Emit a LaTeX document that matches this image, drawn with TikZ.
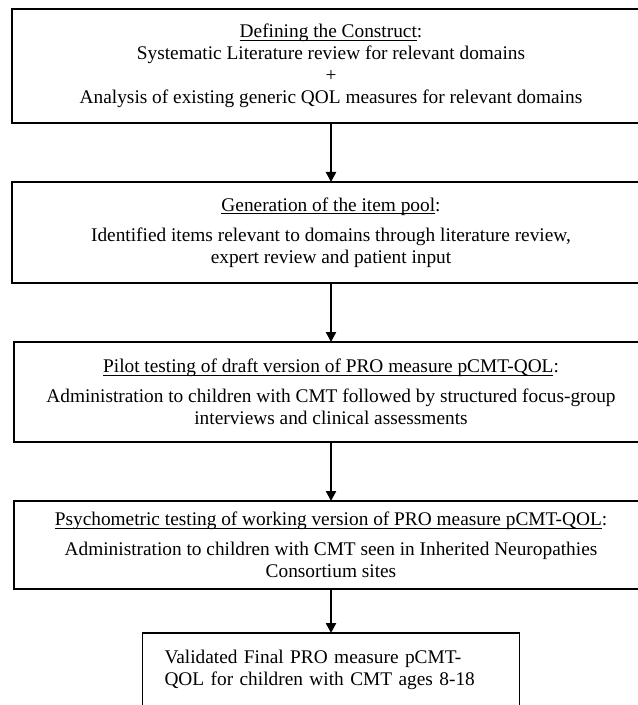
\documentclass[tikz,border=0pt]{standalone}
\usepackage{fontspec}
\setmainfont{Liberation Serif}
\usepackage{tikz}
\usetikzlibrary{positioning, arrows.meta}

\newlength{\ulwd}
\newcommand{\uln}[1]{\settowidth{\ulwd}{#1}\rlap{\rule[-2.2pt]{\ulwd}{0.75pt}}#1}

\tikzset{
  stage/.style={draw, line width=1.3pt, outer sep=0pt, inner sep=0pt,
    align=center, minimum width=478.5pt,
    font=\fontsize{14.5}{16.5}\selectfont},
}

\begin{document}
\begin{tikzpicture}[node distance=44.25pt,->,>={Triangle[width=7.5pt,length=7.5pt]},
  every edge/.append style={line width=1.8pt}]
  \useasboundingbox (0,0) rectangle (477.75pt,-528.75pt);
  \node[stage, minimum height=85.5pt] (1) at (248.25pt,-49.5pt) {\uln{Defining the Construct}:\\
    Systematic Literature review for relevant domains\\ +\\
    Analysis of existing generic QOL measures for relevant domains};
  \node[stage, minimum height=75.75pt] (2) [below=of 1] {\uln{Generation of the item pool}:\\[6pt]
    Identified items relevant to domains through literature review,\\
    expert review and patient input};
  \node[stage, minimum width=475.5pt, minimum height=75pt] (3) [below=of 2]
    {\uln{Pilot testing of draft version of PRO measure pCMT-QOL}:\\[6pt]
    Administration to children with CMT followed by structured focus-group\\
    interviews and clinical assessments};
  \node[stage, minimum width=475.5pt, minimum height=66pt] (4) [below=of 3]
    {\uln{Psychometric testing of working version of PRO measure pCMT-QOL}:\\[6pt]
    Administration to children with CMT seen in Inherited Neuropathies\\
    Consortium sites};
  \node[stage, minimum width=282.75pt, minimum height=55.5pt, text width=249.75pt,
    align=left, inner xsep=16.5pt] (5) [below=33pt of 4]
    {Validated Final PRO measure pCMT-\\QOL for children with CMT ages 8-18};
  \path (1) edge (2)
        (2) edge (3)
        (3) edge (4)
        (4) edge (5);
\end{tikzpicture}
\end{document}
